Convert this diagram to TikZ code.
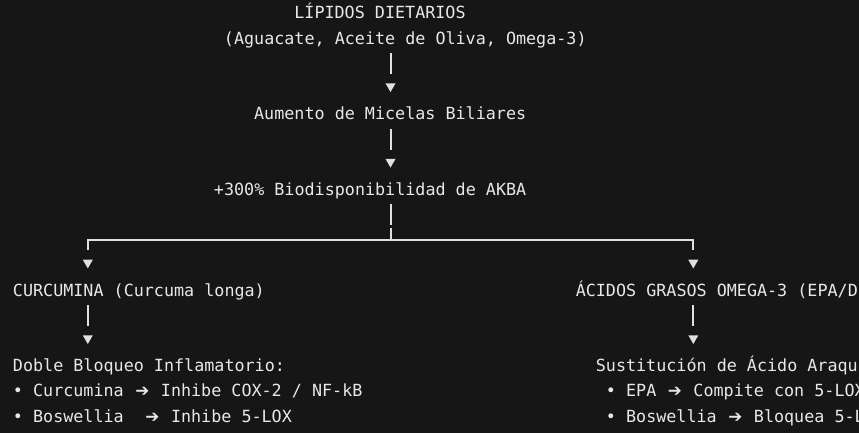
\documentclass[tikz,border=0pt]{standalone}
\usepackage{fontspec}
\setmainfont{DejaVu Sans Mono}
\newfontfamily\simbolos{DejaVu Sans}
\usetikzlibrary{calc,shapes.geometric}
\definecolor{fondo}{RGB}{22,22,22}
\definecolor{tinta}{RGB}{232,232,232}
\definecolor{linea}{RGB}{224,224,224}
\newcommand{\flecha}{\makebox[12.75pt][c]{\simbolos ➔}}
\tikzset{
	texto/.style={anchor=base west, inner sep=0pt, text=tinta, font=\fontsize{12.55}{15}\selectfont},
	barra/.style={draw=linea, line width=1.5pt},
	punta/.style={regular polygon, regular polygon sides=3, shape border rotate=180, fill=linea, inner sep=0pt, outer sep=0pt, minimum size=8.7pt}
}

\begin{document}
\begin{tikzpicture}[x=0.75pt, y=-0.75pt]
		%%%%% START %%%%%
		
		\useasboundingbox (0,0) rectangle (859,433);
		\fill[fondo] (0,0) rectangle (859,433);
		
		\node[texto] (lipidos) at (294.1,18.8) {LÍPIDOS DIETARIOS};
		\node[texto] (fuentes) at (223.7,44.0) {(Aguacate, Aceite de Oliva, Omega-3)};
		\node[texto] (micelas) at (253.9,119.6) {Aumento de Micelas Biliares};
		\node[texto] (akba) at (213.7,195.2) {+300\% Biodisponibilidad de AKBA};
		
		\node[texto] (curcu) at (12.7,296.0) {CURCUMINA (Curcuma longa)};
		\node[texto] (omega) at (575.5,296.0) {ÁCIDOS GRASOS OMEGA-3 (EPA/D};
		
		\node[texto] (bloqueo) at (12.7,371.6) {Doble Bloqueo Inflamatorio:};
		\node[texto] (curA) at (12.7,396.8) {• Curcumina \flecha{} Inhibe COX-2 / NF-kB};
		\node[texto] (curB) at (12.7,422.0) {• Boswellia\ \ \flecha{} Inhibe 5-LOX};
		
		\node[texto] (sustit) at (595.6,371.6) {Sustitución de Ácido Araqu};
		\node[texto] (epaA) at (605.7,396.8) {• EPA \flecha{} Compite con 5-LOX};
		\node[texto] (epaB) at (605.7,422.0) {• Boswellia \flecha{} Bloquea 5-L};
		
		\node[punta] (punta1) at (390.5,86.2) {};
		\node[punta] (punta2) at (390.5,161.8) {};
		\node[punta] (punta3) at (87.8,262.6) {};
		\node[punta] (punta4) at (693.3,262.6) {};
		\node[punta] (punta5) at (87.8,338.2) {};
		\node[punta] (punta6) at (693.3,338.2) {};
		
		\draw[barra] ($(fuentes.base -| punta1)+(0,9.2)$) -- ($(punta1.north)+(0,-9)$);
		\draw[barra] ($(micelas.base -| punta2)+(0,9.2)$) -- ($(punta2.north)+(0,-9)$);
		
		\coordinate (junta) at (390.5,240);
		\draw[barra] ($(akba.base -| junta)+(0,9.2)$) -- ($(junta)+(0,-14.6)$);
		\draw[barra] ($(junta)+(0,-11.7)$) -- (junta);
		\draw[barra] ($(punta3.north)+(0,-9.3)$) |- (junta) -| ($(punta4.north)+(0,-9.3)$);
		
		\draw[barra] ($(curcu.base -| punta5)+(0,9.2)$) -- ($(punta5.north)+(0,-9)$);
		\draw[barra] ($(omega.base -| punta6)+(0,9.2)$) -- ($(punta6.north)+(0,-9)$);
		
		%%%%% END %%%%%
	\end{tikzpicture}
\end{document}
